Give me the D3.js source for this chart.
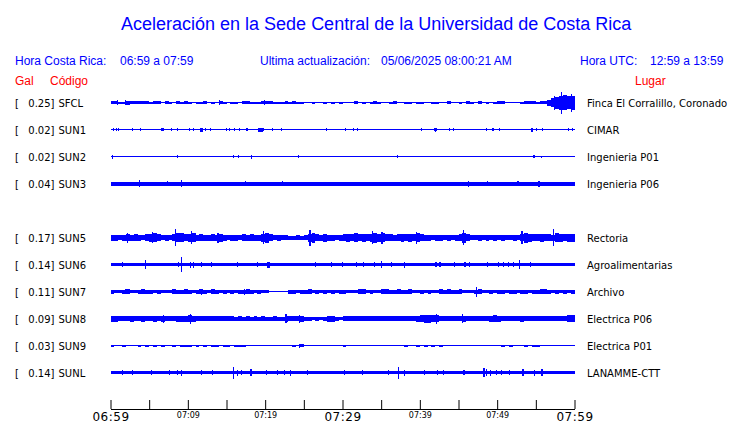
<!DOCTYPE html>
<html><head><meta charset="utf-8">
<script src="https://cdn.jsdelivr.net/npm/d3@7"></script>
<style>body{margin:0;background:#fff}svg{display:block}</style>
</head><body><svg id="c" width="740" height="423"></svg>
<script>
// ---------- DATA ----------
const slots = ["SFCL","SUN1","SUN2","SUN3","SUN4","SUN5","SUN6","SUN7","SUN8","SUN9","SUNL"];
const codes = ["SFCL","SUN1","SUN2","SUN3","SUN5","SUN6","SUN7","SUN8","SUN9","SUNL"];
const peaksGal = [0.25,0.02,0.02,0.04,0.17,0.14,0.11,0.09,0.03,0.14];
const places = ["Finca El Corralillo, Coronado","CIMAR","Ingenieria P01","Ingenieria P06","Rectoria","Agroalimentarias","Archivo","Electrica P06","Electrica P01","LANAMME-CTT"];
// noise floor (relative amplitude units)
const floorAmp = [0.5,0.7,0.5,2,2,1.8,0.5,1.8,0.5,1.7];

// envelopes: one value per half minute (120 values, 06:59 -> 07:59)
const envSFCL = [1.5,1.5,1,1,2,1.5,1.5,1.5,1.5,1.5, 1,1.5,1.5,0.5,1.5,1,0.5,1.5,1,1.5, 1,0.5,1,1,1.5,0.5,1,0.5,1.5,1, 0.5,1,1,0.5,1.5,1.5,1,1,1,1.5, 1.5,1.5,1,1,1,1.5,1,1.5,1,1, 0.5,0.5,1,0.5,0.5,1,0.5,1,0.5,1, 0.5,0.5,0.5,1.5,0.5,1,0.5,1,1.5,1, 0.5,0.5,1,1.5,0.5,0.5,1,1,0.5,1, 1,0.5,0.5,1,1,0.5,0.5,1.5,0.5,0.5, 1,0.5,1.5,1,0.5,1.5,0.5,1,0.5,1, 1.5,1.5,0.5,0.5,0.5,0.5,1,1.5,1.5,1.5, 1,1.5,1.5,3,4.5,6,7,7.5,6.5,7];
const envSUN5 = [3,3,2.5,3,3.5,3,3.5,3,2.5,3.5, 4,4.5,3.5,2.5,3,2.5,3.5,4.5,4.5,3.5, 4,4.5,3,3.5,3,3,3.5,3,4,3, 2.5,3,3,2.5,3.5,3,3.5,3,3,4, 5,3.5,2.5,3,2.5,2.5,2,2,2.5,2, 2.5,4,5,3.5,3,4,3,3,2.5,3, 3.5,4,3.5,4.5,3.5,4,3.5,4,5,4, 4.5,3.5,3.5,3,3.5,4,3.5,4,3.5,4.5, 3.5,3,3,2.5,3,3,2.5,3,2.5,3, 3.5,5,3.5,2.5,2.5,3,2.5,3,2.5,3, 2.5,3,2.5,2.5,3,2.5,3.5,5,4,3.5, 3.5,4,3.5,3.5,3,4.5,4,3.5,4,4];
const envSUN7 = [2,1.5,1.3,2,2.3,1.5,1.5,2,2.3,2, 2,1.5,2,1.5,1.5,1.3,2.3,2,2,2.3, 2,1.5,2,2.5,2,1.5,2.5,2,1.5,2, 1.5,2,1.5,2,2,2.5,2,1.5,2,1.5, 1.5,0.5,0.5,0.5,0.5,0.5,2,2,1.5,2, 2,2.3,1.5,2,1.5,2,1.5,2,1.5,2, 2,1.5,1.5,1.5,2.3,2.3,1.5,2,1.5,1.5, 2.5,2.5,2,2,2.3,2,2,2.3,1.5,1.5, 2,1.5,2,1.5,1.5,2.5,2,2.3,2,2, 2.3,1.5,1.5,1.5,2,2.5,1.5,1.5,2,1.5, 2,2,1.5,2,2,1.5,2,2,1.5,2, 2,2.5,2.5,2,1.5,2,1.5,2,1.5,2];
const envSUN8 = [3,3,2.5,2.5,2.5,3,2.5,2.5,3,2.8, 2.5,3,2.5,3,2.5,2.2,2.2,3,3,3, 3.5,3,2.5,2.5,2.5,2.2,2.5,2.2,2.5,2.2, 2.2,2.2,2,2.5,2,2.2,2,2.2,2,2.5, 2,2,2.2,2,2,3,2.5,2.5,2.5,3, 2,2,1.8,2,1.8,2,3,3,2,1.8, 2.2,2.5,2.2,2.5,2.2,2.5,2.2,2.2,2.5,2.2, 2.5,2.2,2.2,2.5,2.5,2.2,2.5,2.2,2.5,3, 3.5,4,4,3.5,3.5,2.5,2.5,2.5,2.5,2.5, 2.5,3,2.5,2.5,2.2,2.5,2.5,2.5,3,3.5, 3,2.5,2.5,2.5,2.5,2.5,3,2.5,2.5,2.8, 2.8,2.5,2.8,2.8,2.5,2.8,2.5,2.8,3.5,3.5];
const envSUN9 = [1,0.8,0.5,1,0.8,0.5,0.8,1,0.5,1, 0.8,1,0.8,1,0.8,0.5,1,0.8,1,1, 1,0.8,1,0.8,1,0.8,1,1,0.8,1, 1,0.8,1,1,1,0.5,0.8,0.5,0.5,0.5, 0.8,0.5,0.8,0.5,0.5,0.5,0.8,1,0.5,1.5, 0.5,0.5,0.8,0.5,0.5,0.5,0.8,0.5,0.5,0.5, 1,0.8,0.5,0.5,0.8,0.5,0.5,0.8,0.8,0.5, 0.5,0.5,0.5,0.8,0.8,0.5,1,0.8,0.5,1, 0.8,1,0.8,1,0.8,1,0.5,0.8,0.5,0.5, 0.5,0.8,0.5,0.5,0.5,0.5,0.5,0.8,0.5,0.8, 0.5,1,0.8,1,0.5,0.5,0.5,1,0.8,1, 1,0.8,0.5,0.8,0.5,0.8,0.5,0.5,0.5,0.8];

// isolated peaks: [minutes after 06:59, relative amplitude]
const spikesSFCL = [[0.95,2.5],[1.94,2.7],[14.1,2.3],[19.9,2.5],[57.4,7],[58.3,11],[59.6,9]];
const spikesSUN1 = [[0.43,1.7],[0.82,1.7],[1.08,1.7],[2.89,1.3],[3.84,1.3],[6.64,1.7],[6.8,1.7],[7.93,1.3],[8.71,1.3],[10.22,1.3],[10.78,1.7],[11.7,2],[11.9,2],[12.24,1.3],[12.89,1.3],[14.96,1.7],[15.39,1.3],[16.03,1.7],[16.68,1.7],[17.54,1.7],[17.76,1.3],[19.2,2],[19.4,2],[19.6,2],[19.83,1.7],[20.99,1.7],[22.16,1.3],[27.98,1.3],[30.39,1.3],[31.47,1.3],[31.98,1.3],[40.18,1.3],[41.9,1.7],[42.05,2],[42.2,1.7],[43.84,1.3],[44.36,1.7],[48.67,1.3],[49.36,1.3],[49.57,1.3],[50.3,1.7],[54.4,2],[54.6,2],[55.13,1.3],[55.9,1.7],[59.27,1.3],[59.7,1.7]];
const spikesSUN2 = [[0.3,2],[8.71,1.3],[15.95,1.7],[16.6,1.3],[18.19,2],[24.35,1.3],[37.15,1.7],[54.75,1.3],[55.77,1]];
const spikesSUN3 = [[3.75,3.3],[7.4,2.7],[9.2,3.3],[17.5,2.3],[22.2,2.5],[46.3,3],[48.7,2.5],[52.7,2.5],[55.4,3]];
const spikesSUN5 = [[2.24,5],[5.47,5.5],[8.36,8.5],[10.43,6.5],[13.9,5],[19.83,6.5],[25.8,8],[33.92,6.5],[35.1,6],[39.6,6],[45.65,7.5],[53.2,6.5],[57.33,8.5]];
const spikesSUN6 = [[1.59,2.7],[4.53,4.3],[8.79,2.5],[9.22,7.5],[10.35,3],[10.78,3],[11.73,2.5],[13.1,2.3],[16.47,2.3],[19.05,2.5],[20.3,3],[20.5,3],[26.47,2.5],[28.54,2.3],[30.04,2.3],[31.77,2.3],[32.7,2.5],[34.1,2.5],[35.0,3.5],[36.3,2.7],[38.0,3],[42.1,2.3],[42.6,2.5],[44.5,2.3],[45.85,2.5],[46.4,2.5],[48.7,2.5],[50.2,2.5],[50.8,2.5],[51.5,2.3],[52.1,2.5],[52.9,4.5],[54.3,2.3]];
const spikesSUN7 = [[1.9,2.5],[11.73,3],[17.3,3],[47.33,5]];
const spikesSUN8 = [[6.9,4],[10.35,5],[22.7,4.5],[24.4,4],[42.2,5],[45.5,4.3]];
const spikesSUN9 = [[24.4,2]];
const spikesSUNL = [[1.59,2.3],[2.89,2.3],[5.26,2.5],[7.63,2.3],[8.71,2.3],[9.22,3],[11.73,2.3],[13.23,2.5],[15.95,6],[16.47,3],[16.98,2.5],[18.06,3.5],[18.2,3.5],[20.13,2.3],[21.64,2.3],[22.5,2.3],[23.28,3],[25.52,2.3],[30.26,2.3],[32.6,2.3],[35.9,2.7],[37.2,6],[38.0,3],[40.6,2.3],[42.3,2.3],[43.1,2.3],[45.7,2.3],[48.3,4.5],[48.6,3.5],[49.1,3],[49.9,2.3],[50.6,2.3],[51.6,2.3],[53.3,3.3],[53.45,3.3],[54.8,3],[55.8,3.5]];

const tickMinutes = [0,5,10,15,20,25,30,35,40,45,50,55,60];
const tickLabels = ["06:59","","07:09","","07:19","","07:29","","07:39","","07:49","","07:59"];
const majorLabels = ["06:59","07:29","07:59"];

const titleText = "Aceleración en la Sede Central de la Universidad de Costa Rica";
const horaCR = "06:59 a 07:59", horaUTC = "12:59 a 13:59", updated = "05/06/2025 08:00:21 AM";

// ---------- BUILD ----------
const envelopes = {SFCL: envSFCL, SUN5: envSUN5, SUN7: envSUN7, SUN8: envSUN8, SUN9: envSUN9};
const spikes = {SFCL: spikesSFCL, SUN1: spikesSUN1, SUN2: spikesSUN2, SUN3: spikesSUN3, SUN5: spikesSUN5, SUN6: spikesSUN6, SUN7: spikesSUN7, SUN8: spikesSUN8, SUN9: spikesSUN9, SUNL: spikesSUNL};
const stations = codes.map((c,i)=>({code:c, gal:peaksGal[i], place:places[i], floor:floorAmp[i], env:envelopes[c]||null, spikes:spikes[c]||[]}));

const BLUE = "#0000ff", RED = "#ff0000";
const svg = d3.select("#c");
const x = d3.scaleLinear().domain([0,60]).range([110.5,574.5]);
const y = d3.scalePoint().domain(slots).range([102.5,372.5]);
const amp = d3.scaleLinear().domain([0,10]).range([0,10]);

// header
svg.append("text").attr("x",121).attr("y",30).attr("fill",BLUE)
  .style("font","18px 'Liberation Sans', Arial, sans-serif").text(titleText);
const hdr = [[15,"Hora Costa Rica:"],[120,horaCR],[260,"Ultima actualización:"],[381,updated],[580,"Hora UTC:"],[650,horaUTC]];
svg.selectAll("text.hdr").data(hdr).join("text").attr("class","hdr")
  .attr("x",d=>d[0]).attr("y",65).attr("fill",BLUE)
  .style("font","12px 'Liberation Sans', Arial, sans-serif").text(d=>d[1]);
const hdr2 = [[15,"Gal"],[50,"Código"],[635,"Lugar"]];
svg.selectAll("text.hdr2").data(hdr2).join("text").attr("class","hdr2")
  .attr("x",d=>d[0]).attr("y",85).attr("fill",RED)
  .style("font","12px 'Liberation Sans', Arial, sans-serif").text(d=>d[1]);

// traces
const g = svg.selectAll("g.st").data(stations).join("g").attr("class","st")
  .attr("transform",d=>`translate(0,${y(d.code)})`);
g.append("rect").attr("x",x(0)).attr("width",x(60)-x(0))
  .attr("y",d=>-amp(d.floor)).attr("height",d=>2*amp(d.floor))
  .attr("fill",BLUE).attr("shape-rendering","crispEdges");
g.each(function(d){
  const gg = d3.select(this);
  if(d.env){
    gg.selectAll("rect.env").data(d.env).join("rect").attr("class","env")
      .attr("x",(v,i)=>x(i*0.5)).attr("width",(v,i)=>x((i+1)*0.5)-x(i*0.5))
      .attr("y",v=>-amp(v)).attr("height",v=>2*amp(v))
      .attr("fill",BLUE).attr("shape-rendering","crispEdges");
  }
  gg.selectAll("rect.sp").data(d.spikes).join("rect").attr("class","sp")
    .attr("x",s=>x(s[0])-0.6).attr("width",1.2)
    .attr("y",s=>-amp(s[1])).attr("height",s=>2*amp(s[1]))
    .attr("fill",BLUE).attr("shape-rendering","crispEdges");
});

// labels
const lf = "10px 'DejaVu Sans', sans-serif";
g.append("text").attr("x",15).attr("y",4).style("font",lf).text("[");
g.append("text").attr("x",54.5).attr("y",4).attr("text-anchor","end").style("font",lf).text(d=>d.gal.toFixed(2)+"]");
g.append("text").attr("x",58.5).attr("y",4).style("font",lf).text(d=>d.code);
g.append("text").attr("x",587).attr("y",4).style("font",lf).text(d=>d.place);

// axis
const ax = svg.append("g").attr("transform","translate(0,409)")
  .call(d3.axisBottom(x).tickValues(tickMinutes).tickFormat((d,i)=>tickLabels[i])
    .tickSizeInner(-9).tickSizeOuter(0).tickPadding(3));
ax.select(".domain").attr("stroke","#000");
ax.selectAll(".tick line").attr("stroke","#000");
ax.selectAll(".tick text").attr("fill","#000")
  .style("font-family","'DejaVu Sans', sans-serif").style("font-weight","normal")
  .style("letter-spacing",d=>majorLabels.includes(tickLabels[tickMinutes.indexOf(d)]) ? "0.5px" : "0px")
  .style("font-size",d=>majorLabels.includes(tickLabels[tickMinutes.indexOf(d)]) ? "12px" : "8px");
</script></body></html>
